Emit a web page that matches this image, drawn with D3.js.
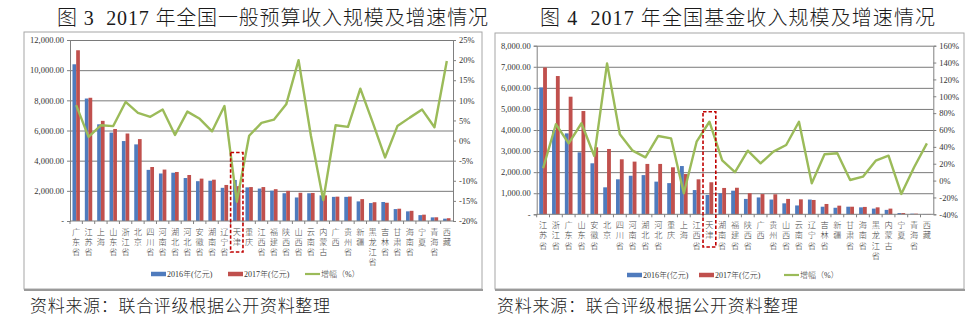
<!DOCTYPE html>
<html>
<head>
<meta charset="utf-8">
<script src="https://cdn.jsdelivr.net/npm/d3@7/dist/d3.min.js"></script>
<style>
  body { margin: 0; background: #fff; }
  svg { display: block; }
</style>
</head>
<body>
<svg id="chart" width="974" height="335"></svg>
<script>
// ---- 图3：2017年全国一般预算收入 ----
const budgetProvinces = ["广东省","江苏省","上海","山东省","浙江省","北京","四川省","河南省","湖北省","河北省","安徽省","湖南省","辽宁省","天津","重庆","江西省","福建省","陕西省","山西省","云南省","内蒙古","广西","贵州省","新疆","黑龙江省","吉林省","甘肃省","海南省","宁夏","青海省","西藏"];
const budget2016 = [10390,8120,6410,5860,5300,5080,3390,3150,3200,2850,2640,2670,2200,2720,2230,2150,2010,1840,1560,1840,1700,1600,1600,1300,1190,1260,790,640,390,240,155];
const budget2017 = [11320,8170,6640,6100,5800,5430,3580,3410,3250,3050,2810,2740,2390,2310,2250,2250,2110,2000,1870,1860,1700,1615,1620,1450,1245,1210,815,675,420,246,185];
const budgetGrowth = [8.8,0.9,3.8,3.6,9.6,6.9,5.9,7.7,1.4,7.2,5.4,2.3,8.6,-15.2,1.2,4.4,5.2,9.0,20.0,1.2,-14.8,3.8,3.4,12.9,4.5,-4.2,3.6,5.7,7.7,3.3,19.8];
const budgetAmountTicks = [0,2000,4000,6000,8000,10000,12000];
const budgetGrowthTicks = [-20,-15,-10,-5,0,5,10,15,20,25];

// ---- 图4：2017年全国基金收入 ----
const fundProvinces = ["江苏省","浙江省","广东省","山东省","安徽省","北京","四川省","河南省","湖北省","河北省","重庆","上海","江西省","天津","湖南省","福建省","陕西省","广西","贵州省","山西省","云南省","辽宁省","吉林省","新疆","甘肃省","海南省","黑龙江省","内蒙古","宁夏","青海省","西藏"];
const fund2016 = [6020,4000,3840,2940,2420,1280,1660,1830,1860,1550,1480,2290,1150,920,1000,1120,730,800,700,520,420,700,360,310,360,330,270,210,60,30,15];
const fund2017 = [6970,6560,5580,4900,3180,3100,2610,2500,2390,2390,2230,1910,1660,1520,1250,1260,1000,960,950,730,710,680,490,410,360,350,330,270,60,30,15];
const fundGrowth = [14.6,66.8,44.2,68.0,29.2,139.0,54.9,35.5,27.6,52.9,50.1,-15.1,46.1,69.8,24.0,10.0,35.5,20.5,34.3,42.2,69.8,-3.2,31.2,32.4,0.7,4.6,23.6,29.5,-15.9,15.8,44.2];
const fundAmountTicks = [0,1000,2000,3000,4000,5000,6000,7000,8000];
const fundGrowthTicks = [-40,-20,0,20,40,60,80,100,120,140,160];

const legendNames = ["2016年(亿元)", "2017年(亿元)", "增幅（%）"];
const sourceNote = "资料来源：联合评级根据公开资料整理";

const COLORS = { y2016: "#4f7bbd", y2017: "#c0504d", growth: "#9bbb59" };
const SERIF = "'Liberation Serif','Noto Sans CJK SC',serif";
const CJK = "'Liberation Serif','Noto Sans CJK SC',sans-serif";

const svg = d3.select("#chart");

function drawPanel(cfg) {
  const g = svg.append("g");
  const x = d3.scaleBand().domain(cfg.categories).range([cfg.left, cfg.right]);
  const yL = d3.scaleLinear().domain(d3.extent(cfg.amountTicks)).range([cfg.bottom, cfg.top]);
  const yR = d3.scaleLinear().domain(d3.extent(cfg.growthTicks)).range([cfg.bottom, cfg.top]);
  const step = x.step();
  const bw = step * 0.3;

  // outer frame with a soft shadow at the bottom
  g.append("rect")
    .attr("x", cfg.frame[0]).attr("y", cfg.frame[1])
    .attr("width", cfg.frame[2] - cfg.frame[0]).attr("height", cfg.frame[3] - cfg.frame[1])
    .attr("fill", "#fff").attr("stroke", "#a6a6a6").attr("stroke-width", 1);
  g.append("line")
    .attr("x1", cfg.frame[0]).attr("x2", cfg.frame[2] + 1)
    .attr("y1", cfg.frame[3] + 1).attr("y2", cfg.frame[3] + 1)
    .attr("stroke", "#9a9a9a").attr("stroke-width", 2);

  // title
  svg.append("text")
    .attr("x", cfg.titleX[0]).attr("y", 25)
    .attr("textLength", cfg.titleX[1] - cfg.titleX[0]).attr("lengthAdjust", "spacing")
    .attr("font-family", SERIF).attr("font-size", 20).attr("font-weight", 300).attr("fill", "#1a1a1a")
    .text(cfg.title);

  // horizontal gridlines from the amount axis
  g.append("g")
    .attr("transform", `translate(${cfg.left},0)`)
    .call(d3.axisLeft(yL).tickValues(cfg.amountTicks.slice(1)).tickSize(-(cfg.right - cfg.left)).tickFormat(""))
    .call(s => s.select(".domain").remove())
    .call(s => s.selectAll("line").attr("stroke", "#7a7a7a").attr("stroke-width", 1));

  // bars
  g.append("g").selectAll("rect")
    .data(cfg.categories.map((c, i) => ({ c, v: cfg.v2016[i] })))
    .join("rect")
    .attr("x", d => x(d.c) + step / 2 - bw)
    .attr("y", d => yL(d.v))
    .attr("width", bw)
    .attr("height", d => yL(0) - yL(d.v))
    .attr("fill", COLORS.y2016);
  g.append("g").selectAll("rect")
    .data(cfg.categories.map((c, i) => ({ c, v: cfg.v2017[i] })))
    .join("rect")
    .attr("x", d => x(d.c) + step / 2)
    .attr("y", d => yL(d.v))
    .attr("width", bw)
    .attr("height", d => yL(0) - yL(d.v))
    .attr("fill", COLORS.y2017);

  // left amount axis
  const fmt = d3.format(",.2f");
  g.append("g")
    .attr("transform", `translate(${cfg.left},0)`)
    .call(d3.axisLeft(yL).tickValues(cfg.amountTicks).tickSize(3).tickPadding(3)
      .tickFormat(v => v === 0 ? "-" : fmt(v)))
    .call(s => s.select(".domain").attr("stroke", "#808080"))
    .call(s => s.selectAll("line").attr("stroke", "#808080"))
    .call(s => s.selectAll("text").attr("font-family", SERIF).attr("font-size", 8.5).attr("fill", "#333"));

  // right growth axis
  g.append("g")
    .attr("transform", `translate(${cfg.right},0)`)
    .call(d3.axisRight(yR).tickValues(cfg.growthTicks).tickSize(3).tickPadding(3)
      .tickFormat(v => v + "%"))
    .call(s => s.select(".domain").attr("stroke", "#808080"))
    .call(s => s.selectAll("line").attr("stroke", "#808080"))
    .call(s => s.selectAll("text").attr("font-family", SERIF).attr("font-size", 8.5).attr("fill", "#333"));

  // category baseline with tick marks between categories
  g.append("line")
    .attr("x1", cfg.left).attr("x2", cfg.right)
    .attr("y1", yL(0)).attr("y2", yL(0))
    .attr("stroke", "#808080");
  g.append("g").selectAll("line")
    .data(cfg.categories)
    .join("line")
    .attr("x1", d => x(d)).attr("x2", d => x(d))
    .attr("y1", yL(0)).attr("y2", yL(0) + 3)
    .attr("stroke", "#808080");

  // growth line
  const line = d3.line()
    .x((d, i) => x(cfg.categories[i]) + step / 2)
    .y(d => yR(d));
  g.append("path")
    .datum(cfg.growth)
    .attr("d", line)
    .attr("fill", "none")
    .attr("stroke", COLORS.growth)
    .attr("stroke-width", 2.4)
    .attr("stroke-linejoin", "round");

  // vertical category labels, one character per line
  const lbl = g.append("g").attr("font-family", CJK).attr("font-size", 8.2)
    .attr("font-weight", 300).attr("fill", "#444");
  cfg.categories.forEach(c => {
    const t = lbl.append("text").attr("text-anchor", "middle");
    Array.from(c).forEach((ch, k) => {
      t.append("tspan")
        .attr("x", x(c) + step / 2)
        .attr("y", cfg.labelTop + 8 + k * cfg.labelStep)
        .text(ch);
    });
  });

  // highlight box around 天津
  const hx = x("天津");
  g.append("rect")
    .attr("x", hx).attr("y", cfg.highlight[0])
    .attr("width", step).attr("height", cfg.highlight[1] - cfg.highlight[0])
    .attr("fill", "none").attr("stroke", "#c00000")
    .attr("stroke-width", 1.6).attr("stroke-dasharray", "3.5,2");

  // legend
  const lg = g.append("g").attr("font-family", CJK).attr("font-size", 8)
    .attr("font-weight", 300).attr("fill", "#333");
  const swatch = [COLORS.y2016, COLORS.y2017, COLORS.growth];
  legendNames.forEach((name, i) => {
    const lx = cfg.legendX[i];
    lg.append("line")
      .attr("x1", lx).attr("x2", lx + 15)
      .attr("y1", cfg.legendY).attr("y2", cfg.legendY)
      .attr("stroke", swatch[i]).attr("stroke-width", i < 2 ? 4.5 : 2.2);
    lg.append("text")
      .attr("x", lx + 16).attr("y", cfg.legendY + 3)
      .text(name);
  });

  // source note
  svg.append("text")
    .attr("x", cfg.sourceX[0]).attr("y", 312)
    .attr("textLength", cfg.sourceX[1] - cfg.sourceX[0]).attr("lengthAdjust", "spacing")
    .attr("font-family", CJK).attr("font-size", 17).attr("font-weight", 300).attr("fill", "#222")
    .text(sourceNote);
}

drawPanel({
  title: "图 3\u00a0\u00a02017 年全国一般预算收入规模及增速情况",
  titleX: [57, 488],
  frame: [24, 32, 482, 289],
  left: 70, right: 453, top: 40, bottom: 221,
  categories: budgetProvinces, v2016: budget2016, v2017: budget2017, growth: budgetGrowth,
  amountTicks: budgetAmountTicks, growthTicks: budgetGrowthTicks,
  labelTop: 227, labelStep: 10,
  highlight: [152.5, 252],
  legendX: [151, 228, 305], legendY: 274,
  sourceX: [30, 330]
});

drawPanel({
  title: "图 4\u00a0\u00a02017 年全国基金收入规模及增速情况",
  titleX: [540, 935],
  frame: [495, 33, 964, 289],
  left: 536.7, right: 933.3, top: 45.7, bottom: 214.3,
  categories: fundProvinces, v2016: fund2016, v2017: fund2017, growth: fundGrowth,
  amountTicks: fundAmountTicks, growthTicks: fundGrowthTicks,
  labelTop: 220, labelStep: 10.3,
  highlight: [111.7, 247],
  legendX: [627, 699, 784], legendY: 275,
  sourceX: [497, 798]
});
</script>
</body>
</html>
